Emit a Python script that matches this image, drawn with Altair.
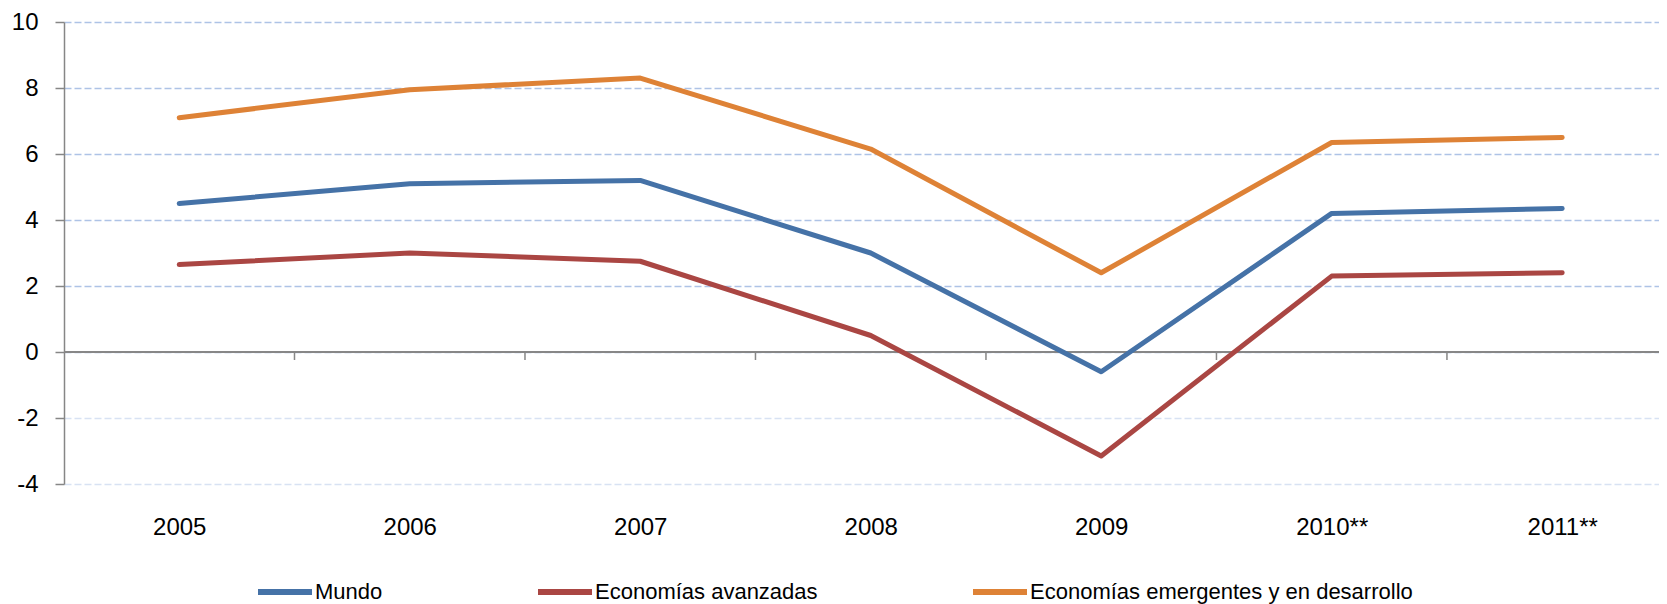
import altair as alt
import pandas as pd

years = ["2005", "2006", "2007", "2008", "2009", "2010**", "2011**"]
series = ["Mundo", "Economías avanzadas", "Economías emergentes y en desarrollo"]
mundo = [4.5, 5.1, 5.2, 3.0, -0.6, 4.2, 4.35]
avanzadas = [2.65, 3.0, 2.75, 0.5, -3.15, 2.3, 2.4]
emergentes = [7.1, 7.95, 8.3, 6.15, 2.4, 6.35, 6.5]
colors = ["#4572A7", "#AA4643", "#DE8236"]
y_ticks = [-4, -2, 0, 2, 4, 6, 8, 10]

rows = []
for name, vals in zip(series, [mundo, avanzadas, emergentes]):
    for i, v in enumerate(vals):
        rows.append({"i": i, "year": years[i], "series": name, "value": v})
df = pd.DataFrame(rows)

bounds = pd.DataFrame({"i": [i + 0.5 for i in range(len(years) - 1)], "value": [0] * (len(years) - 1)})
zero_df = pd.DataFrame({"value": [0]})

FONT = "Liberation Sans"
x_scale = alt.Scale(domain=[-0.5, 6.42], nice=False, zero=False)
y_scale = alt.Scale(domain=[-4, 10], nice=False, zero=False)
label_expr = "[" + ",".join("'" + y + "'" for y in years) + "][datum.value]"

x_axis = alt.Axis(values=list(range(len(years))), labelExpr=label_expr, ticks=False,
                  domain=False, grid=False, labelFontSize=24, labelFont=FONT,
                  labelColor="#000000", labelPadding=31, labelAngle=0, title=None)
y_axis = alt.Axis(values=y_ticks, labelExpr="'' + datum.value", tickSize=9,
                  tickColor="#868686", tickWidth=1.5,
                  domainColor="#868686", domainWidth=1.5, labelPadding=17,
                  labelFontSize=24, labelFont=FONT, labelColor="#000000",
                  grid=True,
                  gridColor={"condition": {"test": "datum.value < 0", "value": "#d8e2f3"},
                             "value": "#aec3e6"},
                  gridDash=[7, 3], gridWidth=1.5, title=None)

X = alt.X("i:Q", scale=x_scale, axis=x_axis)
Y = alt.Y("value:Q", scale=y_scale, axis=y_axis)

zero = alt.Chart(zero_df).mark_rule(color="#878787", strokeWidth=2).encode(y=Y)

ticks = alt.Chart(bounds).mark_tick(orient="vertical", size=8, thickness=1.5,
                                    color="#878787", yOffset=4, opacity=1).encode(x=X, y=Y)

lines = alt.Chart(df).mark_line(strokeWidth=5, strokeCap="round", strokeJoin="round").encode(
    x=X,
    y=Y,
    color=alt.Color("series:N", scale=alt.Scale(domain=series, range=colors),
                    sort=series,
                    legend=alt.Legend(title=None, orient="none", legendX=191, legendY=540,
                                      direction="horizontal", symbolType="stroke",
                                      symbolStrokeWidth=6, symbolSize=2916,
                                      labelFontSize=22, labelFont=FONT, labelColor="#000000",
                                      labelOffset=0, columnPadding=143, labelLimit=0,
                                      padding=0)),
)

chart = alt.layer(zero, ticks, lines).properties(
    width=1595, height=462,
    autosize=alt.AutoSizeParams(type="none"),
    padding={"left": 56, "top": 14, "right": 0, "bottom": 120},
    background="white",
).configure(font=FONT).configure_view(stroke=None)

chart.save("out.html", embed_options={"renderer": "svg", "actions": False})
